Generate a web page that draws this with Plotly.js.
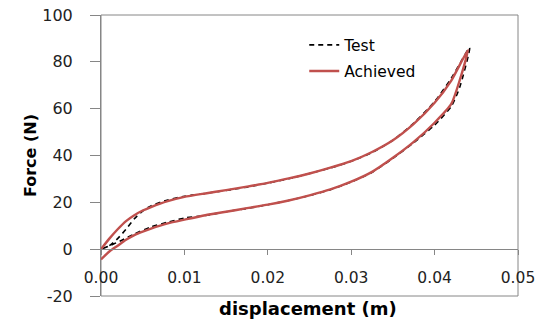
<!DOCTYPE html>
<html>
<head>
<meta charset="utf-8">
<script src="https://cdn.plot.ly/plotly-3.0.1.min.js"></script>
<style>html,body{margin:0;padding:0;background:#fff;}#chart{width:543px;height:321px;}</style>
</head>
<body>
<div id="chart"></div>
<script>
// Test (dashed) – loading branch (ascending) and unloading branch (descending)
const testLoadX = [0, 0.001, 0.002, 0.003, 0.004, 0.005, 0.006, 0.008, 0.010, 0.0125, 0.015, 0.0175, 0.020, 0.0225, 0.025, 0.0275, 0.030, 0.0325, 0.035, 0.0375, 0.040, 0.042, 0.0442];
const testLoadF = [0, 1.5, 4.5, 8.5, 13, 16.3, 18.5, 21, 22.6, 23.8, 25.1, 26.5, 28.2, 30.1, 32.3, 34.7, 37.5, 41.3, 46.5, 53.8, 63, 73, 86];
const testUnloadX = [0.0442, 0.043, 0.042, 0.040, 0.0375, 0.035, 0.0325, 0.030, 0.0275, 0.025, 0.0225, 0.020, 0.0175, 0.015, 0.0125, 0.010, 0.008, 0.006, 0.004, 0.003, 0.002, 0.001, 0];
const testUnloadF = [86, 69, 61, 53, 45.5, 38.8, 32.8, 28.7, 25.4, 22.9, 20.8, 19, 17.4, 16, 14.4, 13.3, 11.5, 9.5, 6.5, 4.7, 3, 1.4, 0];

// Achieved (red) – lower and upper branches, ascending x
const achLowerX = [0, 0.001, 0.002, 0.003, 0.004, 0.005, 0.006, 0.008, 0.010, 0.0125, 0.015, 0.0175, 0.020, 0.0225, 0.025, 0.0275, 0.030, 0.0325, 0.035, 0.0375, 0.040, 0.042, 0.043, 0.044];
const achLowerF = [-4.4, -1, 1.5, 4, 6, 7.5, 8.8, 11, 12.6, 14.5, 16, 17.5, 19, 20.8, 23, 25.5, 28.8, 33, 39, 45.8, 54, 62, 72, 85];
const achUpperX = [0, 0.001, 0.002, 0.003, 0.004, 0.005, 0.006, 0.008, 0.010, 0.0125, 0.015, 0.0175, 0.020, 0.0225, 0.025, 0.0275, 0.030, 0.0325, 0.035, 0.0375, 0.040, 0.042, 0.044];
const achUpperF = [0, 4.5, 8.5, 12, 14.5, 16.5, 18, 20.5, 22.3, 23.8, 25.2, 26.7, 28.3, 30.2, 32.3, 34.8, 37.6, 41.5, 46.5, 53.5, 62.5, 72, 85];

const xTickVals = [0, 0.01, 0.02, 0.03, 0.04, 0.05];
const yTickVals = [-20, 0, 20, 40, 60, 80, 100];
const yTickText = ["-20", "0", "20", "40", "60", "80", "100"];
const seriesNames = ["Test", "Achieved"];
const xTitle = "displacement (m)";
const yTitle = "Force (N)";

const FONT = '"DejaVu Sans", "Noto Sans", sans-serif';
const AXC = '#868686';

const traces = [
  {
    x: testLoadX.concat(testUnloadX.slice(1)),
    y: testLoadF.concat(testUnloadF.slice(1)),
    name: seriesNames[0], mode: 'lines', type: 'scatter',
    line: {color: '#000000', width: 1.6, dash: '5px,4px', shape: 'spline', smoothing: 0.6},
    legendgroup: 'a', hoverinfo: 'skip'
  },
  {
    x: achLowerX.concat(achUpperX.slice().reverse().slice(1)),
    y: achLowerF.concat(achUpperF.slice().reverse().slice(1)),
    name: seriesNames[1], mode: 'lines', type: 'scatter',
    line: {color: '#C0504D', width: 2.4, shape: 'spline', smoothing: 0.6},
    legendgroup: 'b', hoverinfo: 'skip'
  }
];

const layout = {
  width: 543, height: 321,
  margin: {l: 101, r: 25, t: 15, b: 25},
  paper_bgcolor: '#ffffff', plot_bgcolor: '#ffffff',
  font: {family: FONT, size: 15.5, color: '#000'},
  showlegend: true,
  legend: {x: 0.4874, y: 0.9525, xanchor: 'left', yanchor: 'top', bgcolor: 'rgba(0,0,0,0)',
           font: {family: FONT, size: 15.5, color: '#000'}, tracegroupgap: 3, traceorder: 'grouped'},
  xaxis: {
    range: [0, 0.05], tickvals: xTickVals, tickformat: '.2f',
    anchor: 'free', position: 20/120,
    showline: true, linecolor: AXC, linewidth: 1,
    ticks: 'outside', ticklen: 5, tickcolor: AXC,
    showgrid: false, zeroline: false, ticklabelstandoff: 9,
    tickfont: {family: FONT, size: 15.5, color: '#222'}
  },
  yaxis: {
    range: [-20, 100], tickvals: yTickVals, ticktext: yTickText, domain: [0, 1],
    showline: true, linecolor: AXC, linewidth: 1,
    ticks: 'outside', ticklen: 10, tickcolor: AXC,
    showgrid: false, zeroline: false, ticklabelstandoff: 14,
    tickfont: {family: FONT, size: 16, color: '#222'},
    title: {text: yTitle, font: {family: FONT, size: 16, color: '#000', weight: 'bold'}, standoff: 1}
  },
  shapes: [{type: 'rect', xref: 'x domain', yref: 'y domain', x0: 0, x1: 1, y0: 0, y1: 1,
            line: {color: AXC, width: 1}, layer: 'below'}],
  annotations: [{text: xTitle, xref: 'paper', yref: 'paper', x: 0.4975, y: -0.045, xanchor: 'center', yanchor: 'middle',
                 showarrow: false, font: {family: FONT, size: 18, color: '#000', weight: 'bold'}}]
};

Plotly.newPlot('chart', traces, layout, {staticPlot: true, displayModeBar: false});
</script>
</body>
</html>
